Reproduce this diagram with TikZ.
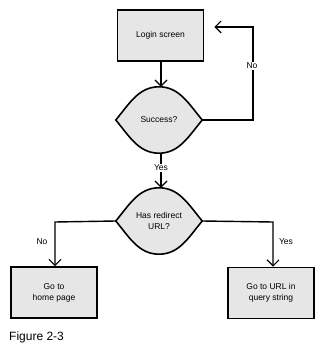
\documentclass[tikz,border=0pt]{standalone}
\usepackage{fontspec}
\setmainfont{Liberation Sans}
\usetikzlibrary{arrows.meta,shapes.geometric,calc}
\definecolor{boxgray}{HTML}{E6E6E6}
\tikzset{
  stepbox/.style={draw=black, line width=1.6pt, fill=boxgray, minimum width=86pt, minimum height=51pt, inner sep=1pt, align=center, font=\fontsize{8.5}{11}\selectfont},
  decbox/.style={shape=diamond, draw=none, minimum width=86pt, minimum height=66pt, inner sep=0pt, align=center},
  decline/.style={draw=black, line width=1.6pt, fill=boxgray},
  arr/.style={draw=black, line width=1.4pt, -{Straight Barb[length=6pt,width=12pt,line width=1.2pt]}},
  lbl/.style={font=\fontsize{8.5}{11}\selectfont, inner sep=1pt},
  wlbl/.style={lbl, fill=white}
}
\newcommand{\blobdiamond}[1]{%
  \path[decline] (#1.west)
    .. controls ($(#1.west)+(14,-17)$) and ($(#1.north)+(-20,0)$) .. (#1.north)
    .. controls ($(#1.north)+(20,0)$) and ($(#1.east)+(-14,-17)$) .. (#1.east)
    .. controls ($(#1.east)+(-14,17)$) and ($(#1.south)+(20,0)$) .. (#1.south)
    .. controls ($(#1.south)+(-20,0)$) and ($(#1.west)+(14,17)$) .. cycle;}
\begin{document}
\begin{tikzpicture}[x=1pt,y=-1pt]
\useasboundingbox (0,0) rectangle (324,347);
\node[stepbox] (login) at (160.5,35.5) {Login screen};
\node[decbox] (succ) at (159,120) {};
\blobdiamond{succ}
\node[lbl] (succt) at (succ.center) {Success?};
\node[decbox] (redir) at (159,221) {};
\blobdiamond{redir}
\node[lbl, align=center] (redirt) at (redir.center) {Has redirect\\URL?};
\node[stepbox] (home) at (54,292.5) {Go to\\home page};
\node[stepbox] (url) at (271,293) {Go to URL in\\query string};
\coordinate (loopc) at (253,27);
\coordinate (leftc) at (55,222);
\coordinate (rightc) at (273,222);
% connectors
\draw[arr] (login.south -| 161,0) -- (succ.north -| 161,0);
\draw[arr] (succ.east) -- (succ.east -| loopc) -- (loopc) -- (loopc -| login.east) [shorten >=10pt];
\draw[arr] (succ.south -| 161,0) -- (redir.north -| 161,0);
\draw[arr] (redir.west) -- (leftc) -- (leftc |- home.north);
\draw[arr] (redir.east) -- (rightc) -- (rightc |- url.north);
% labels
\node[wlbl] (no1) at (252,66) {No};
\node[wlbl] (yes1) at (161,168) {Yes};
\node[lbl] (no2) at (42,242) {No};
\node[lbl] (yes2) at (286,242) {Yes};
\node[anchor=west, font=\fontsize{12}{14}\selectfont, inner sep=0pt] (cap) at (9,337) {Figure 2-3};
\end{tikzpicture}
\end{document}
